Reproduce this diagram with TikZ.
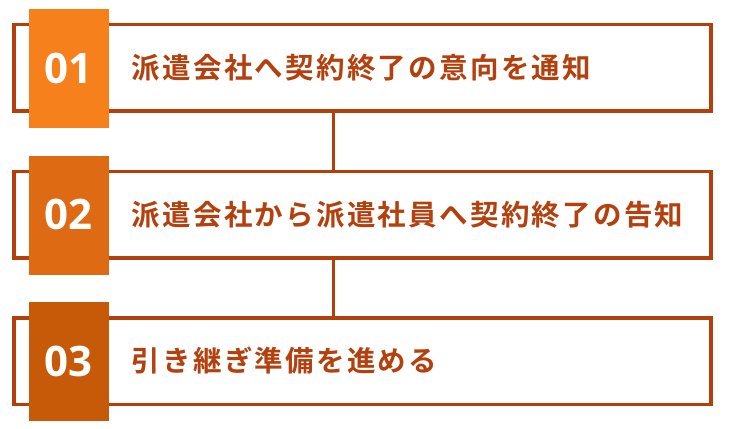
\documentclass[tikz,border=0pt]{standalone}
\usepackage{fontspec}
\newfontfamily\cjk{Noto Sans CJK JP Bold}[LetterSpace=8]
\newfontfamily\numfont{Open Sans Bold}
\definecolor{sqA}{HTML}{F5801C}
\definecolor{sqB}{HTML}{DE6A14}
\definecolor{sqC}{HTML}{C65A08}
\definecolor{lineC}{HTML}{B53F0C}
\definecolor{txtC}{HTML}{B4400E}
\tikzset{
  stepbox/.style={draw=lineC, line width=3.3pt, fill=white, rectangle,
    minimum width=697pt, minimum height=86.7pt, inner sep=0pt},
  numsq/.style={rectangle, minimum width=80pt, minimum height=119pt, inner sep=0pt},
  numtxt/.style={anchor=base, inner sep=0pt, text=white, font=\numfont\fontsize{42}{42}\selectfont},
  lbl/.style={anchor=base west, inner sep=0pt, text=txtC, font=\cjk\fontsize{28.5}{28.5}\selectfont},
  conn/.style={draw=lineC, line width=3.3pt}
}
\begin{document}
\begin{tikzpicture}[x=1pt,y=-1pt]
\useasboundingbox (0,0) rectangle (730,428);
\node[stepbox] (b1) at (362.5,67.6) {};
\node[stepbox] (b2) at (362.5,214.5) {};
\node[stepbox] (b3) at (362.5,361.2) {};
\coordinate (cx) at (333.3,0);
\draw[conn] (b1.south -| cx) -- (b2.north -| cx);
\draw[conn] (b2.south -| cx) -- (b3.north -| cx);
\node[numsq, fill=sqA] (s1) at (69,68.5) {};
\node[numsq, fill=sqB] (s2) at (69,215) {};
\node[numsq, fill=sqC] (s3) at (69,361.5) {};
\node[numtxt] (n1) at (68,83) {01};
\node[numtxt] (n2) at (68,229.5) {02};
\node[numtxt] (n3) at (68,376) {03};
\node[lbl] (t1) at (131.5,78.5) {派遣会社へ契約終了の意向を通知};
\node[lbl] (t2) at (131.5,225) {派遣会社から派遣社員へ契約終了の告知};
\node[lbl] (t3) at (131.5,371.5) {引き継ぎ準備を進める};
\end{tikzpicture}
\end{document}
